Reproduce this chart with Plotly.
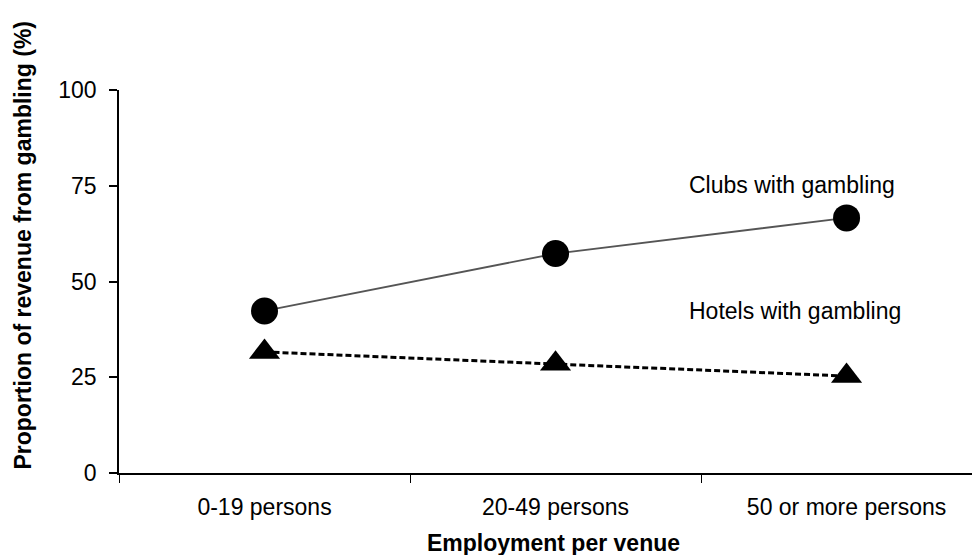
import plotly.graph_objects as go

categories = ["0-19 persons", "20-49 persons", "50 or more persons"]
clubs = [42.3, 57.3, 66.6]
hotels = [31.6, 28.5, 25.3]
y_ticks = [0, 25, 50, 75, 100]

FONT = "Liberation Sans, Arial"
FS = 23

fig = go.Figure()
fig.add_trace(go.Scatter(
    x=categories, y=clubs, mode="lines+markers",
    line=dict(color="#555555", width=1.8),
    marker=dict(symbol="circle", size=27, color="black"),
    showlegend=False))
fig.add_trace(go.Scatter(
    x=categories, y=hotels, mode="lines+markers",
    line=dict(color="black", width=3, dash="6px,3px"),
    marker=dict(symbol="triangle-up", size=27, color="black"),
    showlegend=False))

fig.add_annotation(x=2, y=75.2, xref="x", yref="y", text="Clubs with gambling",
                   showarrow=False, xanchor="left", yanchor="middle", xshift=-160,
                   font=dict(family=FONT, size=FS, color="black"))
fig.add_annotation(x=2, y=42.3, xref="x", yref="y", text="Hotels with gambling",
                   showarrow=False, xanchor="left", yanchor="middle", xshift=-160,
                   font=dict(family=FONT, size=FS, color="black"))
# y-axis title (placed higher than the axis centre, as in the original)
fig.add_annotation(x=-0.110, y=0.595, xref="paper", yref="paper",
                   text="<b>Proportion of revenue from gambling (%)</b>",
                   textangle=-90, showarrow=False, xanchor="center", yanchor="middle",
                   font=dict(family=FONT, size=FS, color="black"))

fig.update_layout(
    width=980, height=555,
    margin=dict(l=111, r=0, t=82, b=90),
    paper_bgcolor="white", plot_bgcolor="white",
    font=dict(family=FONT, size=FS, color="black"),
    xaxis=dict(
        type="category", range=[-0.5, 2.486], automargin=False,
        showline=True, linecolor="black", linewidth=1.5,
        ticks="outside", tickson="boundaries", ticklen=8, tickcolor="black", tickwidth=1,
        showgrid=False, zeroline=False,
        tickfont=dict(size=FS), ticklabelstandoff=13,
        title=dict(text="<b>Employment per venue</b>", font=dict(size=FS), standoff=16),
    ),
    yaxis=dict(
        range=[0, 100], tickvals=y_ticks, automargin=False,
        showline=True, linecolor="black", linewidth=1.5,
        ticks="outside", ticklen=8, tickcolor="black", tickwidth=1.5,
        showgrid=False, zeroline=False,
        tickfont=dict(size=FS), ticklabelstandoff=8,
    ),
)

fig.write_html("out.html")
